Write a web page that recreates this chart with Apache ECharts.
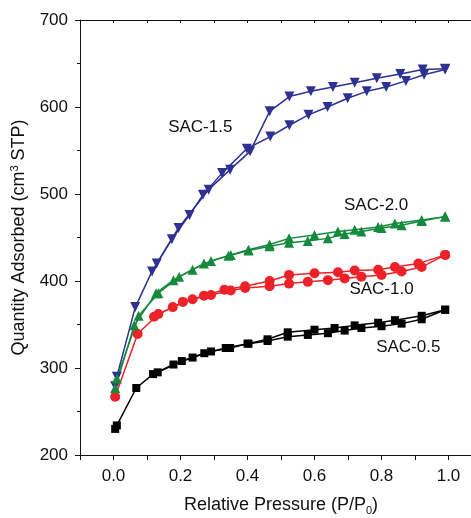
<!DOCTYPE html>
<html>
<head>
<meta charset="utf-8">
<script src="https://cdn.jsdelivr.net/npm/echarts@6/dist/echarts.min.js"></script>
<style>
  html, body { margin: 0; padding: 0; background: #fff; }
  #chart { width: 471px; height: 518px; }
</style>
</head>
<body>
<div id="chart"></div>
<script>
// adsorption / desorption branches, [P/P0, quantity]
var sac05Ads = [[0.005,230],[0.01,234],[0.068,277],[0.118,293],[0.179,304],[0.236,312],[0.291,319],[0.348,323],[0.403,328],[0.46,331],[0.52,336],[0.58,338],[0.64,340],[0.69,343],[0.74,346],[0.80,348],[0.86,351],[0.92,356],[0.99,367]];
var sac05Des = [[0.99,367],[0.92,360],[0.84,355],[0.79,352],[0.72,349],[0.66,346],[0.60,344],[0.52,341],[0.46,333],[0.40,328],[0.335,323],[0.271,317],[0.204,308],[0.132,295]];

var sac10Ads = [[0.005,267],[0.072,339],[0.134,362],[0.177,370],[0.236,379],[0.291,384],[0.35,389],[0.393,392],[0.466,394],[0.524,397],[0.58,399],[0.64,401],[0.69,403],[0.74,405],[0.80,407],[0.86,411],[0.92,416],[0.99,430]];
var sac10Des = [[0.99,430],[0.91,420],[0.84,416],[0.79,413],[0.72,412],[0.67,410],[0.60,409],[0.524,407],[0.466,400],[0.393,394],[0.331,390],[0.27,383],[0.207,376],[0.121,359]];

var sac15Ads = [[0.005,279],[0.01,290],[0.065,370],[0.115,411],[0.174,448],[0.227,476],[0.267,499],[0.324,524],[0.398,552],[0.468,566],[0.525,579],[0.582,591],[0.639,600],[0.699,610],[0.756,618],[0.814,623],[0.873,630],[0.927,637],[0.99,643]];
var sac15Des = [[0.99,644],[0.923,643],[0.856,638],[0.786,633],[0.72,628],[0.655,623],[0.589,618],[0.525,612],[0.466,595],[0.408,549],[0.348,528],[0.284,505],[0.194,461],[0.129,420]];

var sac20Ads = [[0.005,277],[0.062,349],[0.127,386],[0.179,401],[0.236,413],[0.291,423],[0.343,429],[0.403,435],[0.466,440],[0.524,444],[0.58,446],[0.64,449],[0.69,454],[0.74,457],[0.80,461],[0.86,464],[0.92,469],[0.99,474]];
var sac20Des = [[0.99,474],[0.92,470],[0.84,466],[0.79,462],[0.72,459],[0.67,457],[0.60,453],[0.524,449],[0.466,442],[0.403,436],[0.35,430],[0.27,420],[0.196,405],[0.134,386],[0.075,360],[0.01,288]];

var sampleNames = ["SAC-0.5", "SAC-1.0", "SAC-1.5", "SAC-2.0"];
var labelCoords = [[0.88,324],[0.80,390],[0.259,577],[0.784,487]];

var colors = ["#000000", "#ed2228", "#2e3192", "#168a3c"];
var symbols = ["rect", "circle", "triangle", "triangle"];
var symbolSizes = [8, 10, 10, 10];
var rotations = [0, 0, 180, 0];
var branches = [[sac05Ads, sac05Des], [sac10Ads, sac10Des], [sac15Ads, sac15Des], [sac20Ads, sac20Des]];

var fontFamily = "Liberation Sans, Arial, sans-serif";
var chart = echarts.init(document.getElementById("chart"));

var series = [];
branches.forEach(function (pair, i) {
  pair.forEach(function (data, j) {
    var s = {
      name: sampleNames[i],
      type: "line",
      data: data,
      symbol: symbols[i],
      symbolSize: symbolSizes[i],
      symbolRotate: rotations[i],
      showAllSymbol: true,
      lineStyle: { color: colors[i], width: 1.5 },
      itemStyle: { color: colors[i] },
      z: 2
    };
    if (j === 0) {
      s.markPoint = {
        symbol: "circle",
        symbolSize: 0,
        data: [{ coord: labelCoords[i] }],
        label: {
          show: true,
          formatter: sampleNames[i],
          color: "#111",
          fontSize: 17,
          fontFamily: fontFamily
        }
      };
    }
    series.push(s);
  });
});

chart.setOption({
  animation: false,
  grid: { left: 80, top: 20, bottom: 63, right: -11, outerBoundsMode: "none", containLabel: false },
  xAxis: [{
    type: "value",
    min: -0.1,
    max: 1.1,
    interval: 0.1,
    name: "Relative Pressure (P/P{sub|0})",
    nameLocation: "middle",
    nameGap: 40,
    nameTextStyle: {
      color: "#111", fontSize: 18, fontFamily: fontFamily,
      rich: { sub: { fontSize: 11, verticalAlign: "bottom", padding: [10, 0, 0, 0], color: "#111", fontFamily: fontFamily } }
    },
    axisLine: { onZero: false, lineStyle: { color: "#111", width: 1 } },
    axisTick: { inside: false, length: 5, lineStyle: { color: "#111" } },
    axisLabel: {
      margin: 13, color: "#111", fontSize: 17, fontFamily: fontFamily,
      formatter: function (v) {
        var k = Math.round(v * 10);
        if (k < 0 || k > 10 || k % 2 !== 0) return "";
        return (k / 10).toFixed(1);
      }
    },
    splitLine: { show: false }
  }, {
    type: "value",
    position: "top",
    min: -0.1,
    max: 1.1,
    interval: 0.1,
    axisLine: { show: true, onZero: false, lineStyle: { color: "#111", width: 1 } },
    axisTick: { show: true, inside: true, length: 3, lineStyle: { color: "#111" } },
    axisLabel: { show: false },
    splitLine: { show: false }
  }],
  yAxis: {
    type: "value",
    min: 200,
    max: 700,
    interval: 100,
    name: "Quantity Adsorbed (cm{sup|3} STP)",
    nameLocation: "middle",
    nameGap: 50,
    nameTextStyle: {
      color: "#111", fontSize: 18, fontFamily: fontFamily,
      rich: { sup: { fontSize: 11, verticalAlign: "top", padding: [0, 0, 10, 0], color: "#111", fontFamily: fontFamily } }
    },
    axisLine: { show: true, onZero: false, lineStyle: { color: "#111", width: 1 } },
    axisTick: { inside: false, length: 5, lineStyle: { color: "#111" } },
    minorTick: { show: true, splitNumber: 2, length: 3, lineStyle: { color: "#111" } },
    axisLabel: { margin: 12, color: "#111", fontSize: 17, fontFamily: fontFamily },
    splitLine: { show: false }
  },
  series: series
});
</script>
</body>
</html>
